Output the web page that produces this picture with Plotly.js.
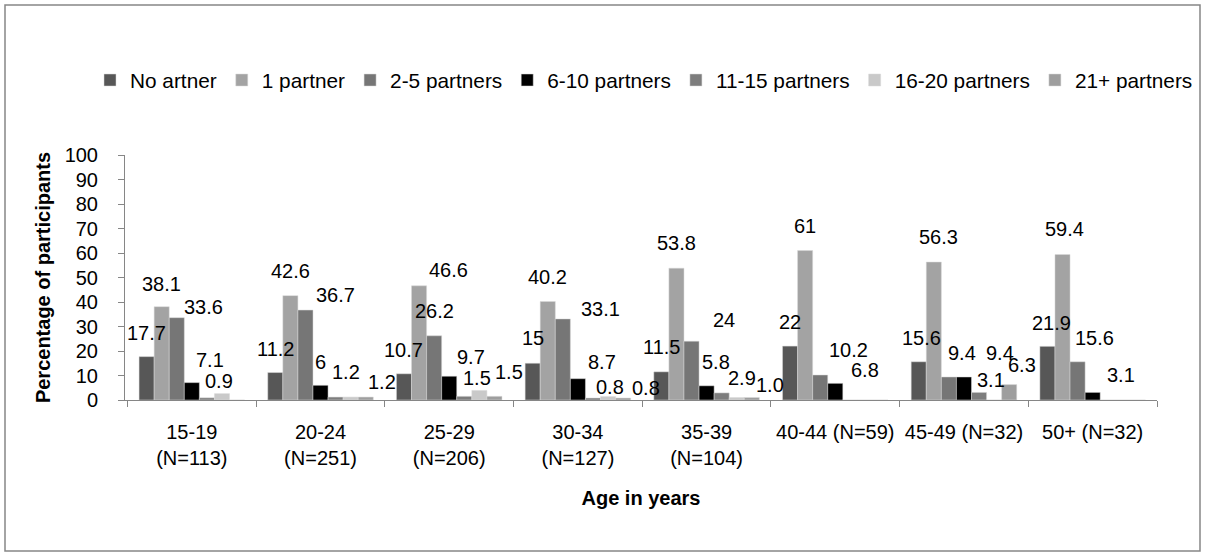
<!DOCTYPE html>
<html>
<head>
<meta charset="utf-8">
<script src="https://cdn.plot.ly/plotly-3.0.1.min.js"></script>
<style>
html,body{margin:0;padding:0;background:#fff;}
#chart{width:1205px;height:557px;}
</style>
</head>
<body>
<div id="chart"></div>
<script>
// ---- data ----
var categories = ["15-19<br>(N=113)", "20-24<br>(N=251)", "25-29<br>(N=206)", "30-34<br>(N=127)",
                  "35-39<br>(N=104)", "40-44 (N=59)", "45-49 (N=32)", "50+ (N=32)"];

var seriesNames = ["No artner", "1 partner", "2-5 partners", "6-10 partners",
                   "11-15 partners", "16-20 partners", "21+ partners"];

var noPartner   = [17.7, 11.2, 10.7, 15.0, 11.5, 22.0, 15.6, 21.9];
var onePartner  = [38.1, 42.6, 46.6, 40.2, 53.8, 61.0, 56.3, 59.4];
var p2to5       = [33.6, 36.7, 26.2, 33.1, 24.0, 10.2, 9.4, 15.6];
var p6to10      = [7.1, 6.0, 9.7, 8.7, 5.8, 6.8, 9.4, 3.1];
var p11to15     = [0.9, 1.2, 1.5, 0.8, 2.9, 0, 3.1, 0];
var p16to20     = [2.6, 1.2, 3.9, 1.4, 1.0, 0, 0, 0];
var p21plus     = [0, 1.2, 1.5, 0.8, 1.0, 0, 6.3, 0];

var noPartnerLabels  = ["17.7", "11.2", "10.7", "15", "11.5", "22", "15.6", "21.9"];
var onePartnerLabels = ["38.1", "42.6", "46.6", "40.2", "53.8", "61", "56.3", "59.4"];
var p2to5Labels      = ["33.6", "36.7", "26.2", "33.1", "24", "10.2", "9.4", "15.6"];
var p6to10Labels     = ["7.1", "6", "9.7", "8.7", "5.8", "6.8", "9.4", "3.1"];
var p11to15Labels    = ["0.9", "1.2", "1.5", "0.8", "2.9", "", "3.1", ""];
var p16to20Labels    = ["", "", "", "", "", "", "", ""];
var p21plusLabels    = ["", "1.2", "1.5", "0.8", "1.0", "", "6.3", ""];

// ---- styling / label placement (pixel nudges, as in the reference) ----
var colors = ["#575757", "#a3a3a3", "#767676", "#000000", "#7d7d7d", "#c9c9c9", "#9e9e9e"];
var labelNudgeX = [
  [0, 0, 0, 0, 0, 0, 3, 4],
  [0, 0, 30, 0, 0, 0, 5, 2],
  [27, 30, 0, 38, 33, 28, 13, 17],
  [18, 0, 22, 24, 9, 30, 36, 28],
  [12, 10, 13, 17, 20, 0, 12, 0],
  [0, 0, 0, 0, 0, 0, 0, 0],
  [0, 16, 14, 23, 18, 0, 13, 0]
];
var labelNudgeY = [
  [24, 24, 24, 25, 25, 24, 24, 23],
  [23, 25, 16, 25, 25, 25, 25, 25],
  [11, 15, 25, 10, 21, 25, 24, 24],
  [23, 23, 19, 17, 24, 13, 24, 17],
  [17, 25, 18, 11, 15, 0, 12, 0],
  [0, 0, 0, 0, 0, 0, 0, 0],
  [0, 15, 24, 10, 13, 0, 20, 0]
];

var allValues = [noPartner, onePartner, p2to5, p6to10, p11to15, p16to20, p21plus];
var allLabels = [noPartnerLabels, onePartnerLabels, p2to5Labels, p6to10Labels,
                 p11to15Labels, p16to20Labels, p21plusLabels];

var FONT = "Liberation Sans, Arial, sans-serif";
var FS = 20;

var L = 125, R = 1157, T = 155, B = 400, W = 1205, H = 557;
var BARGAP = 0.18;
var catW = (R - L) / categories.length;
var barW = catW * (1 - BARGAP) / seriesNames.length;

function px(x) { return (x - L) / (R - L); }
function py(y) { return (B - y) / (B - T); }

var traces = seriesNames.map(function (name, i) {
  return {
    type: "bar",
    name: name,
    x: categories,
    y: allValues[i],
    marker: {color: colors[i], line: {color: "#d9d9d9", width: 0.5}},
    hoverinfo: "x+y+name"
  };
});

var annotations = [];
allLabels.forEach(function (labels, i) {
  labels.forEach(function (t, g) {
    if (!t) return;
    annotations.push({
      x: categories[g], y: allValues[i][g], xref: "x", yref: "y",
      text: t, showarrow: false,
      xanchor: "center", yanchor: "middle",
      xshift: (i - (seriesNames.length - 1) / 2) * barW + labelNudgeX[i][g],
      yshift: labelNudgeY[i][g],
      font: {family: FONT, size: FS, color: "#000"}
    });
  });
});

var layout = {
  width: W, height: H,
  margin: {l: L, r: W - R, t: T, b: H - B, pad: 0},
  paper_bgcolor: "#fff",
  plot_bgcolor: "#fff",
  font: {family: FONT, size: FS, color: "#000"},
  barmode: "group",
  bargap: BARGAP,
  bargroupgap: 0,
  showlegend: true,
  legend: {
    orientation: "h",
    x: px(90), xanchor: "left",
    y: py(60), yanchor: "top",
    font: {family: FONT, size: 20.8, color: "#000"},
    traceorder: "normal",
    bgcolor: "rgba(0,0,0,0)"
  },
  xaxis: {
    type: "category",
    showline: true, linecolor: "#868686", linewidth: 1,
    ticks: "outside", ticklen: 6, tickcolor: "#868686", tickson: "boundaries",
    ticklabelstandoff: 14,
    showgrid: false, zeroline: false,
    tickfont: {family: FONT, size: FS, color: "#000"},
    title: {text: "<b>Age in years</b>", font: {family: FONT, size: FS, color: "#000"}, standoff: 22}
  },
  yaxis: {
    range: [0, 100], dtick: 10, tick0: 0,
    showline: true, linecolor: "#868686", linewidth: 1,
    ticks: "outside", ticklen: 6, tickcolor: "#868686",
    ticklabelstandoff: 16,
    showgrid: false, zeroline: false,
    tickfont: {family: FONT, size: FS, color: "#000"},
    title: {text: "<b>Percentage of participants</b>", font: {family: FONT, size: FS, color: "#000"}, standoff: 8}
  },
  annotations: annotations,
  shapes: [{
    type: "rect", xref: "paper", yref: "paper",
    x0: px(5), x1: px(1200), y0: py(551), y1: py(5),
    line: {color: "#868686", width: 1.5}, fillcolor: "rgba(0,0,0,0)", layer: "below"
  }]
};

Plotly.newPlot("chart", traces, layout, {displayModeBar: false, staticPlot: true});
</script>
</body>
</html>
